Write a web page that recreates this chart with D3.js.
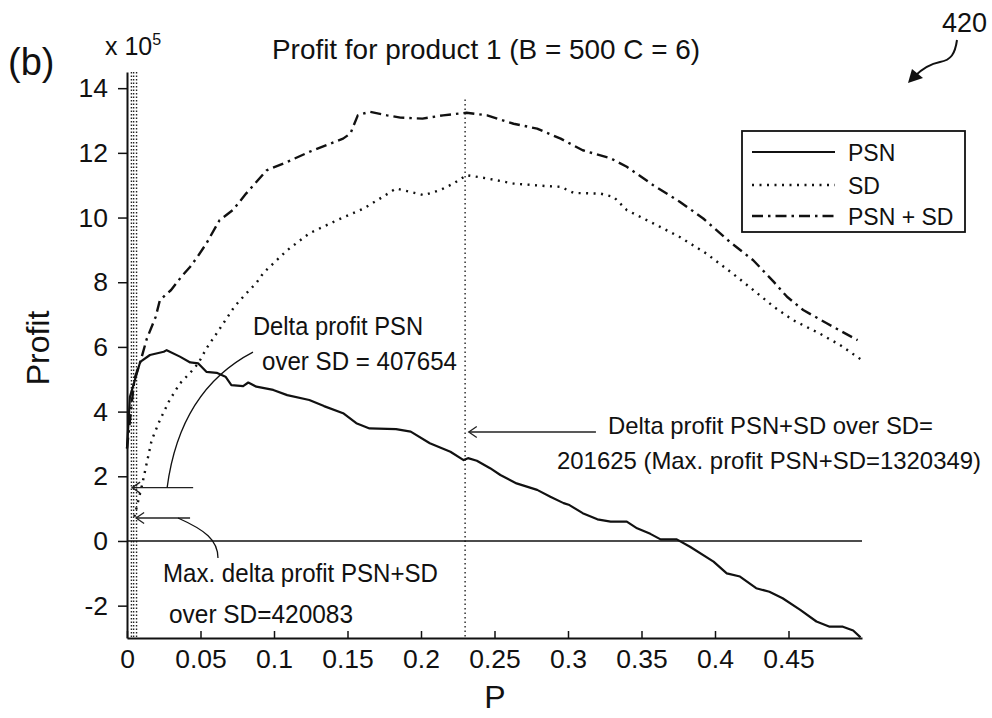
<!DOCTYPE html>
<meta charset="utf-8">
<script src="https://d3js.org/d3.v7.min.js"></script>
<style>
  body { margin: 0; background: #fff; }
  text { font-family: "Liberation Sans", Arial, sans-serif; fill: #111; }
</style>
<div id="chart"></div>
<script>

// profit values are in units of 10^5
var psnP = [0, 0.002, 0.0054, 0.009, 0.0156, 0.025, 0.027, 0.036, 0.043, 0.0485, 0.054, 0.061, 0.067, 0.071, 0.079, 0.0825, 0.088, 0.0995, 0.109, 0.124, 0.134, 0.147, 0.156, 0.165, 0.183, 0.193, 0.206, 0.22, 0.229, 0.232, 0.238, 0.247, 0.254, 0.265, 0.279, 0.288, 0.297, 0.301, 0.31, 0.32, 0.329, 0.34, 0.347, 0.356, 0.363, 0.374, 0.383, 0.399, 0.408, 0.417, 0.428, 0.437, 0.446, 0.458, 0.469, 0.478, 0.487, 0.494, 0.499];
var psnProfit = [2.86, 4.46, 4.98, 5.54, 5.75, 5.85, 5.9, 5.7, 5.52, 5.49, 5.23, 5.2, 5.08, 4.82, 4.79, 4.9, 4.77, 4.67, 4.51, 4.36, 4.17, 3.95, 3.64, 3.48, 3.46, 3.38, 3.02, 2.76, 2.5, 2.56, 2.48, 2.25, 2.04, 1.78, 1.58, 1.37, 1.17, 1.11, 0.86, 0.67, 0.6, 0.6, 0.39, 0.22, 0.05, 0.05, -0.18, -0.64, -1.0, -1.1, -1.46, -1.57, -1.77, -2.13, -2.49, -2.65, -2.65, -2.77, -2.98];

var sdP = [0.005, 0.01, 0.0134, 0.0168, 0.0224, 0.029, 0.036, 0.043, 0.0485, 0.054, 0.061, 0.067, 0.073, 0.08, 0.088, 0.093, 0.109, 0.124, 0.143, 0.161, 0.174, 0.183, 0.193, 0.202, 0.213, 0.222, 0.231, 0.245, 0.263, 0.286, 0.295, 0.304, 0.322, 0.331, 0.34, 0.358, 0.376, 0.394, 0.412, 0.426, 0.44, 0.453, 0.471, 0.485, 0.5];
var sdProfit = [0.75, 1.68, 2.4, 3.12, 3.74, 4.36, 4.87, 5.2, 5.49, 5.95, 6.42, 6.83, 7.24, 7.6, 7.98, 8.3, 8.99, 9.51, 9.92, 10.28, 10.64, 10.9, 10.79, 10.69, 10.85, 11.05, 11.31, 11.21, 11.05, 10.97, 10.95, 10.76, 10.74, 10.64, 10.23, 9.82, 9.4, 8.89, 8.27, 7.76, 7.24, 6.83, 6.42, 6.06, 5.59];

var bothP = [0, 0.005, 0.009, 0.0134, 0.0195, 0.0224, 0.03, 0.037, 0.043, 0.048, 0.054, 0.063, 0.072, 0.081, 0.095, 0.109, 0.124, 0.147, 0.152, 0.157, 0.165, 0.177, 0.186, 0.201, 0.215, 0.231, 0.245, 0.263, 0.279, 0.295, 0.31, 0.329, 0.34, 0.358, 0.376, 0.392, 0.41, 0.426, 0.44, 0.449, 0.46, 0.476, 0.497];
var bothProfit = [2.86, 5.0, 5.53, 6.24, 6.93, 7.45, 7.76, 8.17, 8.48, 8.79, 9.2, 9.92, 10.23, 10.74, 11.46, 11.72, 12.03, 12.44, 12.6, 13.16, 13.27, 13.16, 13.09, 13.06, 13.16, 13.24, 13.16, 12.9, 12.75, 12.44, 12.08, 11.83, 11.57, 11.0, 10.49, 9.97, 9.25, 8.68, 8.01, 7.55, 7.14, 6.73, 6.21];

var seriesNames = ["PSN", "SD", "PSN + SD"];

var xTicks = [0, 0.05, 0.1, 0.15, 0.2, 0.25, 0.3, 0.35, 0.4, 0.45];
var xTickLabels = ["0", "0.05", "0.1", "0.15", "0.2", "0.25", "0.3", "0.35", "0.4", "0.45"];
var yTicks = [-2, 0, 2, 4, 6, 8, 10, 12, 14];
var yTickLabels = ["-2", "0", "2", "4", "6", "8", "10", "12", "14"];

// vertical dotted markers (P) near the origin and at the PSN+SD maximum
var nearZeroP = [0.003, 0.0045, 0.0065];
var maxP = 0.23;

var W = 992, H = 718;

var svg = d3.select("#chart")
  .append("svg")
    .attr("width", W)
    .attr("height", H);

var x = d3.scaleLinear().domain([0, 0.5]).range([127, 862]);
var y = d3.scaleLinear().domain([-3, 14.5]).range([638, 72]);

function zip(a, b) { return a.map(function(v, i) { return [v, b[i]]; }); }

var line = d3.line()
  .x(function(d) { return x(d[0]); })
  .y(function(d) { return y(d[1]); });

// marker lines
nearZeroP.forEach(function(p) {
  svg.append("line")
    .attr("x1", x(p)).attr("x2", x(p))
    .attr("y1", y(14.5)).attr("y2", y(-3))
    .attr("stroke", "#222").attr("stroke-width", 1.4)
    .attr("stroke-dasharray", "1.5,2");
});
svg.append("line")
  .attr("x1", x(maxP)).attr("x2", x(maxP))
  .attr("y1", y(13.65)).attr("y2", y(-3))
  .attr("stroke", "#222").attr("stroke-width", 1.4)
  .attr("stroke-dasharray", "1.5,3");

// zero line
svg.append("line")
  .attr("x1", x(0)).attr("x2", x(0.5))
  .attr("y1", y(0)).attr("y2", y(0))
  .attr("stroke", "#111").attr("stroke-width", 1.4);

// series
var series = [
  { data: zip(psnP, psnProfit), dash: null, width: 2.2 },
  { data: zip(sdP, sdProfit), dash: "2,5.5", width: 2.4 },
  { data: zip(bothP, bothProfit), dash: "11,5,2.5,5", width: 2.4 }
];
series.forEach(function(s) {
  svg.append("path")
    .attr("d", line(s.data))
    .attr("fill", "none")
    .attr("stroke", "#111")
    .attr("stroke-width", s.width)
    .attr("stroke-linejoin", "round")
    .attr("stroke-dasharray", s.dash);
});

// axes
var yAxis = svg.append("g")
  .attr("transform", "translate(" + x(0) + ",0)")
  .call(d3.axisLeft(y).tickValues(yTicks)
    .tickFormat(function(d, i) { return yTickLabels[i]; })
    .tickSize(9).tickSizeOuter(0).tickPadding(10));
var xAxis = svg.append("g")
  .attr("transform", "translate(0," + y(-3) + ")")
  .call(d3.axisBottom(x).tickValues(xTicks)
    .tickFormat(function(d, i) { return xTickLabels[i]; })
    .tickSize(-7).tickSizeOuter(0).tickPadding(11));
[yAxis, xAxis].forEach(function(a) {
  a.select(".domain").attr("stroke", "#111").attr("stroke-width", 2);
  a.selectAll(".tick line").attr("stroke", "#111").attr("stroke-width", 1.5);
  a.selectAll(".tick text")
    .attr("fill", "#111")
    .style("font-size", "26.5px")
    .style("font-family", "'Liberation Sans', Arial, sans-serif");
});

// titles and labels
svg.append("text").attr("x", 8).attr("y", 75)
  .style("font-size", "38px").text("(b)");
var mult = svg.append("text").attr("x", 105).attr("y", 55).style("font-size", "25px");
mult.append("tspan").text("x 10");
mult.append("tspan").attr("dy", -10).style("font-size", "16px").text("5");

svg.append("text").attr("x", 272).attr("y", 59)
  .attr("textLength", 428).attr("lengthAdjust", "spacingAndGlyphs")
  .style("font-size", "28px").text("Profit for product 1 (B = 500 C = 6)");

svg.append("text")
  .attr("transform", "translate(49,348) rotate(-90)")
  .attr("text-anchor", "middle")
  .style("font-size", "32px").text("Profit");

svg.append("text").attr("x", 495).attr("y", 708)
  .attr("text-anchor", "middle")
  .style("font-size", "32px").text("P");

// figure number with curved arrow
svg.append("text").attr("x", 942).attr("y", 32)
  .style("font-size", "27px").text("420");
svg.append("path")
  .attr("d", "M957,40 C955,54 951,60 940,62 C930,64 922,69 915,76")
  .attr("fill", "none").attr("stroke", "#111").attr("stroke-width", 2);
svg.append("path")
  .attr("d", "M908,83 L912,69 L923,78 Z")
  .attr("fill", "#111");

// legend
var lg = svg.append("g");
lg.append("rect")
  .attr("x", 742).attr("y", 131).attr("width", 223).attr("height", 101)
  .attr("fill", "#fff").attr("stroke", "#111").attr("stroke-width", 1.8);
var legendRows = [152, 185, 216];
seriesNames.forEach(function(name, i) {
  lg.append("line")
    .attr("x1", 752).attr("x2", 835)
    .attr("y1", legendRows[i]).attr("y2", legendRows[i])
    .attr("stroke", "#111").attr("stroke-width", series[i].width)
    .attr("stroke-dasharray", series[i].dash);
  lg.append("text")
    .attr("x", 848).attr("y", legendRows[i] + 9)
    .style("font-size", "23px").text(name);
});

// annotations
function arrow(p0, p1, v) {
  var x0 = x(p0), x1 = x(p1), yy = y(v);
  svg.append("line")
    .attr("x1", x0).attr("x2", x1).attr("y1", yy).attr("y2", yy)
    .attr("stroke", "#222").attr("stroke-width", 1.3);
  svg.append("path")
    .attr("d", "M" + (x1 + 8) + "," + (yy - 5.5) + "L" + x1 + "," + yy + "L" + (x1 + 8) + "," + (yy + 5.5))
    .attr("fill", "none").attr("stroke", "#222").attr("stroke-width", 1.3);
}
function note(tx, ty, len, size, str) {
  svg.append("text").attr("x", tx).attr("y", ty)
    .attr("textLength", len).attr("lengthAdjust", "spacingAndGlyphs")
    .style("font-size", size + "px").text(str);
}

arrow(0.045, 0.0035, 1.65);
svg.append("path")
  .attr("d", "M" + x(0.0273) + "," + y(1.65) +
             "Q" + x(0.036) + "," + y(4.66) + " " + x(0.0857) + "," + y(5.84))
  .attr("fill", "none").attr("stroke", "#111").attr("stroke-width", 1.3);
note(253, 335, 170, 26, "Delta profit PSN");
note(262, 370, 195, 26, "over SD = 407654");

arrow(0.0429, 0.0062, 0.71);
svg.append("path")
  .attr("d", "M" + x(0.0347) + "," + y(0.71) +
             "C" + x(0.053) + "," + y(0.34) + " " + x(0.0619) + "," + y(0.03) +
             " " + x(0.0619) + "," + y(-0.53))
  .attr("fill", "none").attr("stroke", "#111").attr("stroke-width", 1.3);
note(163, 582, 275, 26, "Max. delta profit PSN+SD");
note(169, 623, 184, 26, "over SD=420083");

arrow(0.319, 0.2325, 3.37);
note(608, 434, 325, 24, "Delta profit PSN+SD over SD=");
note(557, 469, 424, 24, "201625 (Max. profit PSN+SD=1320349)");

</script>
